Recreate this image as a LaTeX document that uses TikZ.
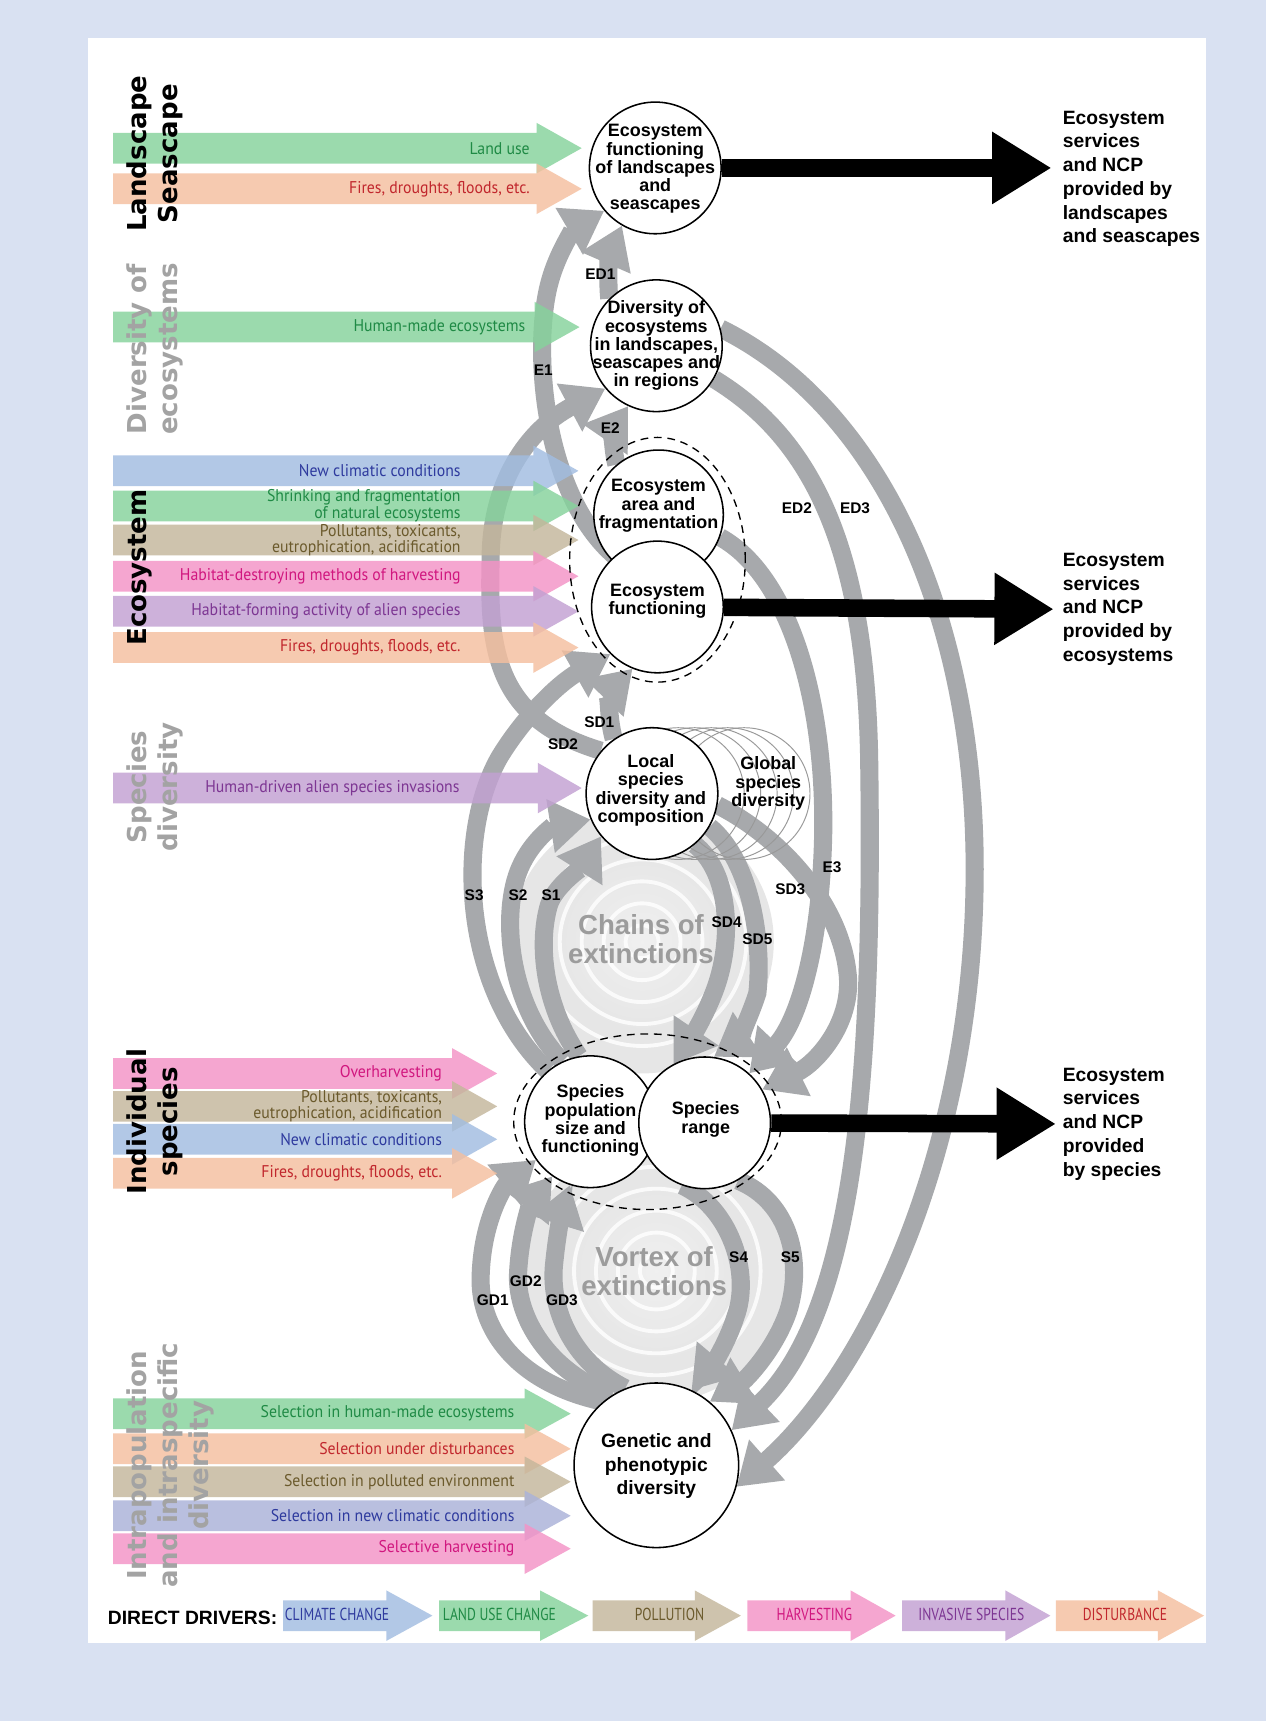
\documentclass[tikz,border=0pt]{standalone}
\usepackage{fontspec}
\setmainfont{Liberation Sans}
\newfontfamily\drvfont[FakeStretch=0.93]{PT Sans}
\newfontfamily\condfont[FakeStretch=0.78]{PT Sans}
\newfontfamily\heavyfont{DejaVu Sans}
\usetikzlibrary{arrows.meta}

\definecolor{panelblue}{HTML}{D9E1F2}
\definecolor{bandgray}{HTML}{A7A9AC}
\definecolor{drvgreen}{HTML}{86D39C}
\definecolor{drvpeach}{HTML}{F5BF9F}
\definecolor{drvblue}{HTML}{A2BDE1}
\definecolor{drvtan}{HTML}{C4B69B}
\definecolor{drvpink}{HTML}{F493C6}
\definecolor{drvpurple}{HTML}{C2A1D2}
\definecolor{drvlav}{HTML}{AAB2D9}
\definecolor{txtgreen}{HTML}{1F8A45}
\definecolor{txtred}{HTML}{C1272D}
\definecolor{txtblue}{HTML}{2E3A9E}
\definecolor{txttan}{HTML}{6B5A2C}
\definecolor{txtpink}{HTML}{D1177F}
\definecolor{txtpurple}{HTML}{7D3693}
\definecolor{labgray}{HTML}{A3A3A3}
\definecolor{swirltext}{HTML}{9C9C9C}

\pgfdeclarelayer{back}
\pgfdeclarelayer{bands}
\pgfsetlayers{back,bands,main}

% soft grey disc that fades out at its rim
\pgfdeclareradialshading{ripple}{\pgfpoint{0bp}{0bp}}{%
  color(0bp)=(black!6); color(18bp)=(black!10); color(36bp)=(black!9);
  color(46bp)=(black!4); color(50bp)=(white)}

\lineskiplimit=-10pt

\tikzset{
  bubble/.style={circle, draw=black, line width=0.8pt, fill=white, inner sep=0pt},
  bubtext/.style={align=center, inner sep=0pt, font=\bfseries\fontsize{9.3}{9.5}\selectfont},
  band/.style={draw=bandgray, line width=0.33cm, -{Triangle[length=0.74cm,width=0.94cm]}},
  bandlab/.style={inner sep=0pt, font=\bfseries\fontsize{8}{8}\selectfont},
  drvfill/.style={fill=#1, fill opacity=0.82},
  drvlab/.style={anchor=east, align=right, inner sep=0pt, font=\drvfont\fontsize{8.8}{8.6}\selectfont},
  keylab/.style={inner sep=0pt, font=\condfont\fontsize{9}{9}\selectfont},
  levellab/.style={rotate=90, align=center, inner sep=0pt,
    font=\heavyfont\bfseries\fontsize{13.5}{16}\selectfont},
  outarrow/.style={draw=black, line width=0.32cm, -{Triangle[length=1.08cm,width=1.24cm]}},
  outtext/.style={anchor=west, align=left, inner sep=0pt, font=\bfseries\fontsize{10}{12.3}\selectfont},
  swirltxt/.style={align=center, inner sep=0pt, text=swirltext, font=\bfseries\fontsize{14.3}{15}\selectfont},
  hull/.style={draw=black, line width=0.7pt, dash pattern=on 4pt off 3pt}
}

\begin{document}
\begin{tikzpicture}[x=0.02cm, y=-0.02cm]

\useasboundingbox (0,0) rectangle (1153,1568);

% frame and the two ripple discs
\begin{pgfonlayer}{back}
  \fill[panelblue] (0,0) rectangle (1153,1568);
  \fill[white] (80,35) rectangle (1099,1497);
  \foreach \sx/\sy/\nm in {585/858/chains, 598/1158/vortex} {
    \coordinate (\nm) at (\sx,\sy);
    \shade[shading=ripple] (\nm) circle (2.4cm);
    \foreach \rr in {0.3,0.7,1.1,1.5,1.9}
      \draw[white, line width=2pt, opacity=0.8] (\nm) circle (\rr cm);
  }
  \node[swirltxt] (chainstxt) at (584,856) {Chains of\\extinctions};
  \node[swirltxt] (vortextxt) at (596,1158) {Vortex of\\extinctions};
\end{pgfonlayer}

% direct drivers acting on each level
\foreach \yy/\hbase/\htip/\tend/\fcol/\tcol/\txt in {
  135/489/530/483/drvgreen/txtgreen/{Land use},
  172/489/530/483/drvpeach/txtred/{Fires, droughts, floods, etc.},
  298/487/528/479/drvgreen/txtgreen/{Human-made ecosystems},
  429/486/527/420/drvblue/txtblue/{New climatic conditions},
  461/486/527/420/drvgreen/txtgreen/{Shrinking and fragmentation\\of natural ecosystems},
  492/486/527/420/drvtan/txttan/{Pollutants, toxicants,\\eutrophication, acidification},
  525/486/527/420/drvpink/txtpink/{Habitat-destroying methods of harvesting},
  557/486/527/420/drvpurple/txtpurple/{Habitat-forming activity of alien species},
  590/486/527/420/drvpeach/txtred/{Fires, droughts, floods, etc.},
  718/490/530/419/drvpurple/txtpurple/{Human-driven alien species invasions},
  978/412/453/403/drvpink/txtpink/{Overharvesting},
  1008/412/453/403/drvtan/txttan/{Pollutants, toxicants,\\eutrophication, acidification},
  1038/412/453/403/drvblue/txtblue/{New climatic conditions},
  1069/412/453/403/drvpeach/txtred/{Fires, droughts, floods, etc.},
  1288/478/520/469/drvgreen/txtgreen/{Selection in human-made ecosystems},
  1320/478/520/469/drvpeach/txtred/{Selection under disturbances},
  1350/478/520/469/drvtan/txttan/{Selection in polluted environment},
  1381/478/520/469/drvlav/txtblue/{Selection in new climatic conditions},
  1411/478/520/469/drvpink/txtpink/{Selective harvesting}} {
  \fill[drvfill=\fcol] (103,\yy-14) -- (\hbase,\yy-14) -- (\hbase,\yy-23) -- (\htip,\yy)
    -- (\hbase,\yy+23) -- (\hbase,\yy+14) -- (103,\yy+14) -- cycle;
  \node[drvlab, text=\tcol] (drv\yy) at (\tend,\yy) {\txt};
}

% key
\node[anchor=west, inner sep=0pt, font=\bfseries\fontsize{10}{12}\selectfont] (keyhead) at (98,1474) {DIRECT DRIVERS:};
\foreach \xl/\hbase/\htip/\tx/\fcol/\tcol/\txt in {
  258/352/394/307/drvblue/txtblue/CLIMATE CHANGE,
  400/492/536/455/drvgreen/txtgreen/LAND USE CHANGE,
  540/633/675/610/drvtan/txttan/POLLUTION,
  681/775/816/742/drvpink/txtpink/HARVESTING,
  822/916/957/885/drvpurple/txtpurple/INVASIVE SPECIES,
  962/1055/1097/1025/drvpeach/txtred/DISTURBANCE} {
  \fill[drvfill=\fcol] (\xl,1458) -- (\hbase,1458) -- (\hbase,1449) -- (\htip,1472)
    -- (\hbase,1495) -- (\hbase,1486) -- (\xl,1486) -- cycle;
  \node[keylab, text=\tcol] (key\xl) at (\tx,1471) {\txt};
}

% levels of organisation
\node[levellab] (lvland) at (141,140) {Landscape\\Seascape};
\node[levellab, text=labgray] (lvecodiv) at (141,318) {Diversity of\\ecosystems};
\node[levellab] (lveco) at (127,517) {Ecosystem};
\node[levellab, text=labgray] (lvspdiv) at (141,717) {Species\\diversity};
\node[levellab] (lvind) at (141,1022) {Individual\\species};
\node[levellab, text=labgray] (lvintra) at (155,1335) {Intrapopulation\\and intraspecific\\diversity};

% components
\node[bubble, minimum size=2.4cm] (lsf) at (597,153) {};
\node[bubble, minimum size=2.4cm] (ecodiv) at (598,315) {};
\node[bubble, minimum size=2.36cm] (ecoarea) at (600,469) {};
\node[bubble, minimum size=2.4cm] (ecofun) at (599,553) {};
\foreach \gx in {618,633,648,663,678}
  \draw[black!40, line width=0.5pt] (\gx,723) circle (1.2cm);
\node[bubble, minimum size=2.4cm] (locsp) at (594,723) {};
\node[bubble, minimum size=2.4cm] (poppl) at (538,1022) {};
\node[bubble, minimum size=2.4cm] (sprange) at (642,1023) {};
\node[bubble, minimum size=3cm] (genphen) at (598,1335) {};

\node[bubtext] (lsftxt) at (597,154) {Ecosystem\\functioning\\of landscapes\\and\\seascapes};
\node[bubtext] (ecodivtxt) at (598,315) {Diversity of\\ecosystems\\in landscapes,\\seascapes and\\in regions};
\node[bubtext] (ecoareatxt) at (600,461) {Ecosystem\\area and\\fragmentation};
\node[bubtext] (ecofuntxt) at (599,548) {Ecosystem\\functioning};
\node[bubtext] (locsptxt) at (593,720) {Local\\species\\diversity and\\composition};
\node[bubtext] (globtxt) at (700,714) {Global\\species\\diversity};
\node[bubtext] (poppltxt) at (538,1021) {Species\\population\\size and\\functioning};
\node[bubtext] (sprangetxt) at (643,1020) {Species\\range};
\node[bubtext, font=\bfseries\fontsize{10}{12.2}\selectfont] (genphentxt) at (598,1336) {Genetic and\\phenotypic\\diversity};

\draw[hull] (599,510) ellipse [x radius=1.6cm, y radius=2.23cm];
\draw[hull] (590,1022) ellipse [x radius=2.44cm, y radius=1.6cm];

% contributions to people
\coordinate (tip1) at (958,153);
\coordinate (tip2) at (960,555);
\coordinate (tip3) at (962,1024);
\draw[outarrow] (lsf) -- (tip1);
\draw[outarrow] (ecofun) -- (tip2);
\draw[outarrow] (sprange) -- (tip3);
\node[outtext] (svcland) at (968,163) {Ecosystem\\services\\and NCP\\provided by\\landscapes\\and seascapes};
\node[outtext] (svceco) at (968,555) {Ecosystem\\services\\and NCP\\provided by\\ecosystems};
\node[outtext] (svcsp) at (968,1024) {Ecosystem\\services\\and NCP\\provided\\by species};

% feedbacks between levels
\begin{pgfonlayer}{bands}
  \draw[band] (ecofun.130) .. controls (495,450) and (485,320) .. (500,260)
    .. controls (508,228) and (525,207) .. (lsf.220);
  \draw[band] (ecodiv.135) .. controls (553,250) and (556,230) .. (lsf.240);
  \draw[band] (ecoarea.130) .. controls (557,405) and (560,388) .. (ecodiv.245);
  \draw[band] (locsp.125) .. controls (553,650) and (556,630) .. (ecofun.248);
  \draw[band] (locsp.140) .. controls (450,655) and (445,590) .. (447,510)
    .. controls (447,440) and (480,392) .. (ecodiv.220);
  \draw[band] (poppl.130) .. controls (420,900) and (415,760) .. (455,690)
    .. controls (478,652) and (510,622) .. (ecofun.225);
  \draw[band] (poppl.115) .. controls (462,915) and (456,830) .. (474,790)
    .. controls (485,765) and (505,752) .. (locsp.203);
  \draw[band] (poppl.100) .. controls (495,915) and (490,860) .. (500,825)
    .. controls (505,808) and (530,790) .. (locsp.220);
  \draw[band] (genphen.130) .. controls (470,1260) and (435,1210) .. (438,1160)
    .. controls (440,1110) and (460,1080) .. (poppl.215);
  \draw[band] (genphen.122) .. controls (500,1250) and (470,1200) .. (472,1160)
    .. controls (474,1120) and (485,1095) .. (poppl.235);
  \draw[band] (genphen.112) .. controls (520,1240) and (500,1190) .. (505,1150)
    .. controls (508,1120) and (513,1100) .. (poppl.252);
  \draw[band] (sprange.250) .. controls (665,1100) and (685,1160) .. (670,1200)
    .. controls (662,1225) and (648,1245) .. (genphen.65);
  \draw[band] (sprange.300) .. controls (720,1095) and (732,1150) .. (718,1195)
    .. controls (705,1232) and (678,1258) .. (genphen.50);
  \draw[band] (locsp.310) .. controls (665,795) and (668,855) .. (652,900)
    .. controls (643,925) and (630,945) .. (sprange.118);
  \draw[band] (locsp.330) .. controls (685,785) and (695,860) .. (690,905)
    .. controls (682,930) and (670,950) .. (sprange.82);
  \draw[band] (ecoarea.340) .. controls (720,525) and (752,640) .. (750,760)
    .. controls (748,860) and (728,930) .. (sprange.48);
  \draw[band] (locsp.350) .. controls (715,765) and (765,825) .. (772,885)
    .. controls (778,930) and (745,968) .. (sprange.30);
  \draw[band] (ecodiv.330) .. controls (740,400) and (790,500) .. (792,700)
    .. controls (796,1000) and (775,1200) .. (genphen.25);
  \draw[band] (ecodiv.15) .. controls (800,370) and (890,560) .. (888,800)
    .. controls (886,1050) and (790,1250) .. (genphen.345);
\end{pgfonlayer}

\foreach \nm/\lx/\ly in {ED1/547/250, E1/495/337, E2/556/390, ED2/726/463, ED3/779/463,
  SD1/546/658, SD2/513/678, E3/758/790, SD3/720/810, S3/432/816, S2/472/816, S1/502/816,
  SD4/662/840, SD5/690/856, S4/673/1145, S5/720/1145, GD2/479/1167, GD1/449/1185, GD3/512/1185}
  \node[bandlab] (lab\nm) at (\lx,\ly) {\nm};

\end{tikzpicture}
\end{document}
